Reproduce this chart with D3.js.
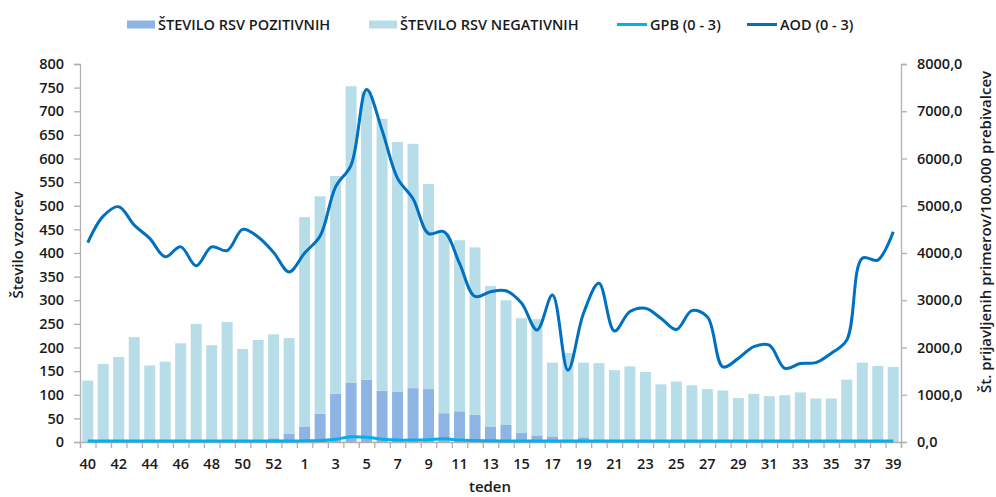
<!DOCTYPE html>
<html>
<head>
<meta charset="utf-8">
<script src="https://cdn.jsdelivr.net/npm/d3@7"></script>
<style>
  html, body { margin: 0; padding: 0; background: #fff; }
  svg { display: block; font-family: "Open Sans", "Lato", sans-serif; }
</style>
</head>
<body>
<svg id="chart" width="996" height="497"></svg>
<script>
const weeks = [40,41,42,43,44,45,46,47,48,49,50,51,52,53,1,2,3,4,5,6,7,8,9,10,11,12,13,14,15,16,17,18,19,20,21,22,23,24,25,26,27,28,29,30,31,32,33,34,35,36,37,38,39];
const positive = [0,0,0,0,0,0,0,0,0,0,0,0,8,17,33,60,102,126,132,108,106,114,112,61,65,58,33,36,19,14,12,3,10,2,0,0,0,0,0,0,0,0,0,0,0,0,0,0,0,0,0,0,0];
const negative = [130,165,180,222,162,170,209,250,205,254,197,216,220,203,443,460,461,627,610,576,529,517,434,381,362,354,297,264,243,246,156,185,158,165,152,160,148,122,128,120,112,109,93,102,97,99,105,92,92,132,168,161,159];
const aod = [4220,4780,4980,4590,4310,3920,4130,3730,4130,4050,4500,4340,4010,3600,4000,4360,5400,5860,7460,6600,5580,5150,4410,4450,3780,3080,3180,3200,2940,2370,3110,1520,2720,3360,2350,2760,2830,2620,2380,2780,2650,1590,1770,2020,2050,1560,1660,1680,1880,2160,3890,3850,4450];
const gpb = [20,20,20,20,20,20,20,20,20,20,20,20,20,20,25,30,60,110,100,60,40,40,50,70,40,30,25,20,20,20,20,20,20,20,20,20,20,20,20,20,20,20,20,20,20,20,20,20,20,20,20,20,20];
const leftTicks = d3.range(0, 801, 50);
const rightTicks = d3.range(0, 8001, 1000);
const seriesNames = ["ŠTEVILO RSV POZITIVNIH", "ŠTEVILO RSV NEGATIVNIH", "GPB (0 - 3)", "AOD (0 - 3)"];
const colors = {pos: "#8eb4e3", neg: "#b7dee8", gpb: "#00b0f0", aod: "#0070c0"};

const svg = d3.select("#chart");
const m = {left: 80, right: 901, top: 64, bottom: 442};

const x = d3.scaleBand().domain(weeks.map((w, i) => i)).range([m.left, m.right]).paddingInner(0.29).paddingOuter(0.145);
const xb = d3.scaleLinear().domain([0, weeks.length]).range([m.left, m.right]);
const yL = d3.scaleLinear().domain([0, 800]).range([m.bottom, m.top]);
const yR = d3.scaleLinear().domain([0, 8000]).range([m.bottom, m.top]);

const axisColor = "#b0b0b0";
const fontCol = "#1a1a1a";

// bars (stacked)
const stackData = weeks.map((w, i) => ({i, pos: positive[i], neg: negative[i]}));
const stack = d3.stack().keys(["pos", "neg"])(stackData);
svg.append("g").selectAll("g").data(stack).join("g")
  .attr("fill", d => colors[d.key])
  .selectAll("rect").data(d => d).join("rect")
  .attr("x", d => x(d.data.i))
  .attr("width", x.bandwidth())
  .attr("y", d => yL(d[1]))
  .attr("height", d => Math.max(0, yL(d[0]) - yL(d[1])));

// axes
const gL = svg.append("g").attr("transform", `translate(${m.left},0)`)
  .call(d3.axisLeft(yL).tickValues(leftTicks).tickSize(6).tickPadding(10).tickFormat(d3.format("d")));
const gR = svg.append("g").attr("transform", `translate(${m.right},0)`)
  .call(d3.axisRight(yR).tickValues(rightTicks).tickSize(6).tickPadding(10).tickFormat(d => d3.format(".1f")(d).replace(".", ",")));
const gX = svg.append("g").attr("transform", `translate(0,${m.bottom})`)
  .call(d3.axisBottom(xb).tickValues(d3.range(0, weeks.length + 1)).tickSize(6).tickFormat(""));
const gXL = svg.append("g").attr("transform", `translate(0,${m.bottom})`)
  .call(d3.axisBottom(x).tickValues(weeks.map((w, i) => i).filter(i => i % 2 === 0)).tickSize(0).tickPadding(17).tickFormat(i => weeks[i]));
gXL.select(".domain").remove();

[gL, gR, gX].forEach(g => {
  g.select(".domain").attr("stroke", axisColor).attr("stroke-width", 1.3);
  g.selectAll(".tick line").attr("stroke", axisColor).attr("stroke-width", 1.3);
});
[gL, gR, gXL].forEach(g => {
  g.selectAll(".tick text").attr("fill", fontCol).attr("font-size", 14.5).attr("font-weight", 600)
    .attr("font-family", "'Open Sans', sans-serif");
});

// lines
const lineR = v => d3.line().x((d, i) => x(i) + x.bandwidth() / 2).y(d => yR(d)).curve(d3.curveCatmullRom.alpha(0.5))(v);
svg.append("path").attr("d", lineR(gpb)).attr("fill", "none").attr("stroke", colors.gpb).attr("stroke-width", 3);
svg.append("path").attr("d", lineR(aod)).attr("fill", "none").attr("stroke", colors.aod).attr("stroke-width", 3).attr("stroke-linejoin", "round");

// axis titles
svg.append("text").attr("transform", "translate(23,245) rotate(-90)").attr("text-anchor", "middle")
  .attr("font-size", 15).attr("font-weight", 600).attr("fill", fontCol).text("Število vzorcev");
svg.append("text").attr("transform", "translate(991,232) rotate(-90)").attr("text-anchor", "middle")
  .attr("font-size", 15).attr("font-weight", 600).attr("fill", fontCol).text("Št. prijavljenih primerov/100.000 prebivalcev");
svg.append("text").attr("x", 490).attr("y", 492).attr("text-anchor", "middle")
  .attr("font-size", 15).attr("font-weight", 600).attr("fill", fontCol).text("teden");

// legend
const legend = [
  {name: seriesNames[0], type: "rect", color: colors.pos, sx: 127, tx: 158},
  {name: seriesNames[1], type: "rect", color: colors.neg, sx: 369, tx: 400},
  {name: seriesNames[2], type: "line", color: colors.gpb, sx: 617, tx: 650},
  {name: seriesNames[3], type: "line", color: colors.aod, sx: 747, tx: 780}
];
const lg = svg.append("g");
legend.forEach(l => {
  if (l.type === "rect") {
    lg.append("rect").attr("x", l.sx).attr("y", 20.5).attr("width", 28).attr("height", 8).attr("fill", l.color);
  } else {
    lg.append("line").attr("x1", l.sx).attr("x2", l.sx + 30).attr("y1", 24.5).attr("y2", 24.5)
      .attr("stroke", l.color).attr("stroke-width", 3);
  }
  lg.append("text").attr("x", l.tx).attr("y", 29.5).attr("font-size", 14.5).attr("font-weight", 600)
    .attr("fill", fontCol).text(l.name);
});
</script>
</body>
</html>
